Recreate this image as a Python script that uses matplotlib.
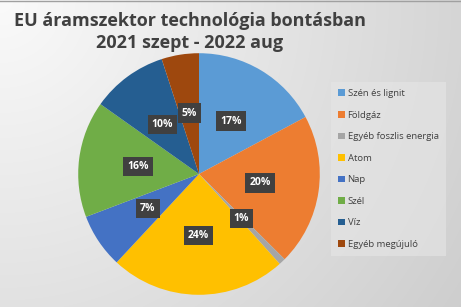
import matplotlib
matplotlib.use('Agg')

import numpy as np
import matplotlib.pyplot as plt
from matplotlib.patches import Patch

# data (percent of EU electricity, clockwise from top)
categories = ['Szén és lignit', 'Földgáz', 'Egyéb foszlis energia', 'Atom',
              'Nap', 'Szél', 'Víz', 'Egyéb megújuló']
shares = [17.2, 20.3, 0.9, 23.6, 7.3, 15.6, 10.2, 5.0]
colors = ['#5B9BD5', '#ED7D31', '#A5A5A5', '#FFC000',
          '#4472C4', '#70AD47', '#255E91', '#9E480E']
title = 'EU áramszektor technológia bontásban\n2021 szept - 2022 aug'

plt.rcParams['font.family'] = ['Open Sans', 'DejaVu Sans']

W, H = 461, 307
fig = plt.figure(figsize=(W / 100, H / 100), dpi=100)

# radial grey gradient background, lightest in the top-left corner
bg = fig.add_axes([0, 0, 1, 1])
yy, xx = np.mgrid[0:H, 0:W]
dist = np.sqrt(xx ** 2 + yy ** 2)
shade = (250 - 0.08 * dist) / 255.0
bg.imshow(np.dstack([shade] * 3), aspect='auto', extent=[0, W, H, 0])
bg.plot([0, W], [0.5, 0.5], color='#a0a0a0', lw=1)
bg.set_xlim(0, W)
bg.set_ylim(H, 0)
bg.axis('off')

fig.text(190 / W, 1 - 32 / H, title, ha='center', va='center',
         fontsize=13, fontweight='bold', color='#404040', linespacing=1.25)

# pie
cx, cy, r = 199, 174, 122
ax = fig.add_axes([(cx - r) / W, (H - cy - r) / H, 2 * r / W, 2 * r / H])
wedges, _, autotexts = ax.pie(shares, colors=colors, startangle=90,
                              counterclock=False, radius=1,
                              autopct=lambda p: '{:.0f}%'.format(p),
                              pctdistance=0.51,
                              wedgeprops=dict(linewidth=0))
for t in autotexts:
    t.set_color('white')
    t.set_fontsize(7.5)
    t.set_fontweight('bold')
    t.set_bbox(dict(facecolor='#404040', edgecolor='none', pad=3))
ax.set_xlim(-1.01, 1.01)
ax.set_ylim(-1.01, 1.01)
ax.set_aspect('equal')
ax.axis('off')

handles = [Patch(facecolor=c, edgecolor='none') for c in colors]
leg = fig.legend(handles, categories, loc='upper left',
                 bbox_to_anchor=(331 / W, 1 - 82 / H), fontsize=6.8,
                 frameon=True, fancybox=False, handlelength=0.7,
                 handleheight=0.7, handletextpad=0.3, labelspacing=1.33,
                 borderpad=0.75, borderaxespad=0, labelcolor='#404040')
leg.get_frame().set_facecolor('#e6e6e6')
leg.get_frame().set_edgecolor('none')
leg.get_frame().set_alpha(0.6)

fig.savefig('out.png', dpi=100)
